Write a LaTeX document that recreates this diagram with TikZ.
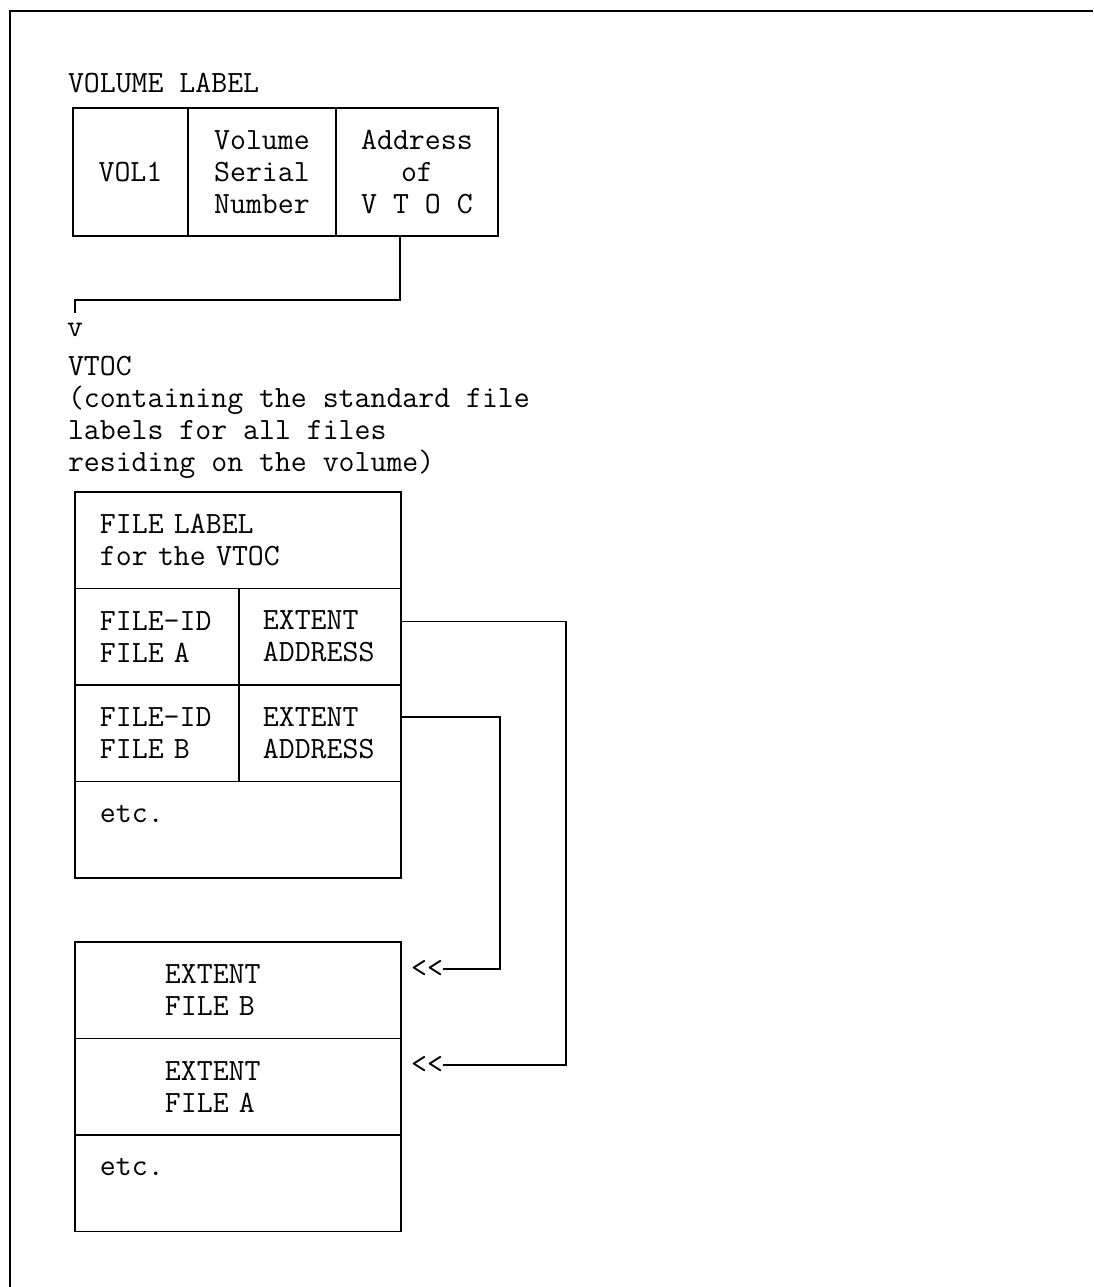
\documentclass[tikz,border=0pt]{standalone}
\usepackage{tikz}
\usetikzlibrary{positioning}

\tikzset{
  ibmtext/.style={font=\ttfamily\fontsize{17.6pt}{18.2pt}\selectfont,inner sep=0pt,outer sep=0pt},
  ctrcell/.style={ibmtext,draw,line width=1pt,anchor=north west,align=center,minimum height=2.56cm},
  leftcell/.style={ibmtext,draw,line width=1pt,anchor=north west,align=left,inner xsep=0.5cm,inner ysep=0pt,minimum height=1.93cm},
  link/.style={draw,line width=1pt}
}

\begin{document}
\begin{tikzpicture}[x=0.02cm,y=-0.02cm]
        \useasboundingbox (0,0) rectangle (1093,1287);
        \draw[link] (1093,11) -- (10,11) -- (10,1287);

        % volume label
        \node[ibmtext,anchor=west] (vlabel) at (68,83) {VOLUME LABEL};
        \node[ctrcell,minimum width=2.30cm] (vol) at (73,108) {VOL1};
        \node[ctrcell,minimum width=2.96cm] (serial) at (vol.north east)
          {Volume\\Serial\\Number};
        \node[ctrcell,minimum width=3.24cm] (addr) at (serial.north east)
          {Address\\of\\V T O C};

        \node[ibmtext] (vmark) at (75,330) {v};
        \node[ibmtext,anchor=north west,align=left] (vtoc) at (68,356)
          {VTOC\\(containing the standard file\\labels for all files\\residing on the volume)};
        \draw[link] ([xshift=-0.34cm]addr.south) -- ++(0,64)
          -| ([yshift=0.2cm]vmark.north);

        % vtoc
        \node[leftcell,text width=5.52cm] (flabel) at (75,492)
          {FILE LABEL\\for the VTOC};
        \node[leftcell,text width=2.28cm] (idA) at (flabel.south west)
          {FILE-ID\\FILE A};
        \node[leftcell,text width=2.28cm,inner xsep=0.48cm] (eaA) at (idA.north east)
          {EXTENT\\ADDRESS};
        \node[leftcell,text width=2.28cm] (idB) at (idA.south west)
          {FILE-ID\\FILE B};
        \node[leftcell,text width=2.28cm,inner xsep=0.48cm] (eaB) at (idB.north east)
          {EXTENT\\ADDRESS};
        \node[leftcell,text width=5.52cm] (vtocetc) at (idB.south west)
          {etc.\\\mbox{}};

        % extents
        \node[leftcell,text width=2.92cm,inner xsep=1.8cm] (extB) at (75,942)
          {EXTENT\\FILE B};
        \node[leftcell,text width=2.92cm,inner xsep=1.8cm] (extA) at (extB.south west)
          {EXTENT\\FILE A};
        \node[leftcell,text width=5.52cm] (extetc) at (extA.south west)
          {etc.\\\mbox{}};

        \node[ibmtext] (ptrB) at (427,969) {<\kern0pt<};
        \node[ibmtext] (ptrA) at (427,1065) {<\kern0pt<};
        \draw[link] ([yshift=-0.66cm]eaA.north east) -- ++(165,0) |- (ptrA.east);
        \draw[link] ([yshift=-0.64cm]eaB.north east) -- ++(99,0) |- (ptrB.east);
\end{tikzpicture}
\end{document}
